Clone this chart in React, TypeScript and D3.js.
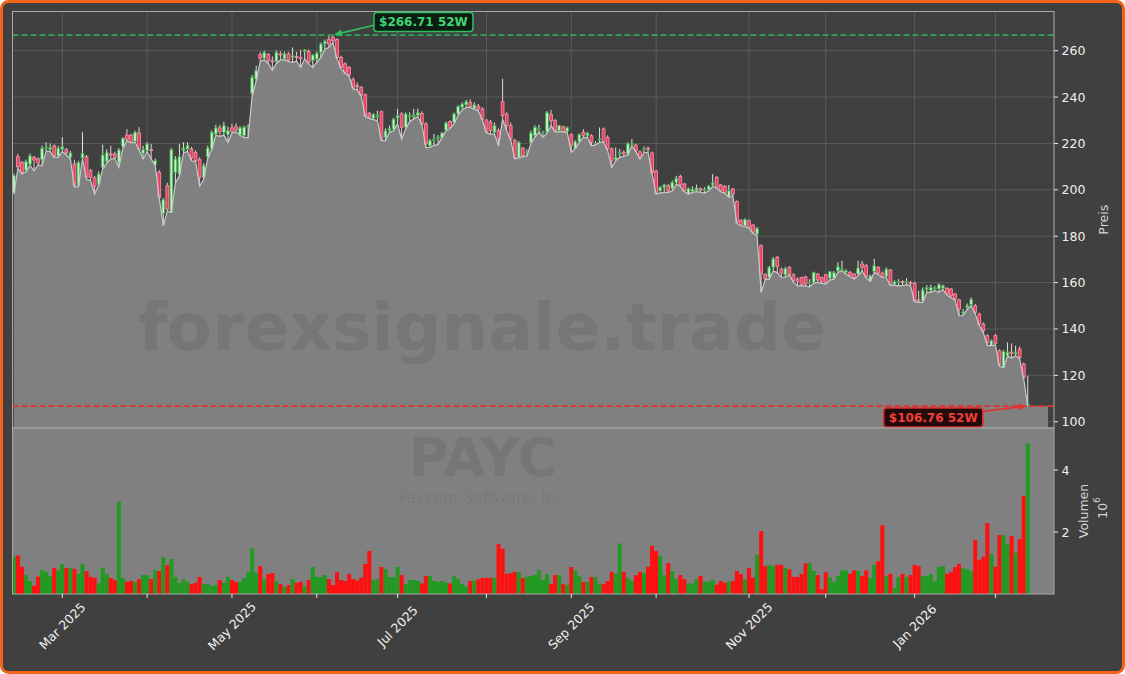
import React from "react";
import * as d3 from "d3";

// ---------- DATA (price in USD, volume in millions; index = trading day) ----------
const openP = [
198.9,214.3,211.8,208.5,211.1,214.0,213.3,212.9,218.0,217.5,
218.9,214.6,217.5,217.3,214.0,211.1,201.8,213.7,214.3,208.2,
205.1,202.5,209.7,212.3,215.5,215.4,211.8,218.6,223.6,223.6,
220.9,224.5,215.7,216.9,217.3,210.8,207.5,189.8,201.8,190.3,
207.5,206.8,217.0,217.6,217.6,216.0,213.0,205.4,214.3,217.6,
224.1,226.7,224.8,223.8,226.7,227.2,223.8,223.3,227.2,241.6,
247.8,258.3,256.8,258.3,255.6,255.3,258.6,256.4,258.6,257.0,
257.5,257.0,259.6,259.6,255.7,256.4,259.3,263.0,264.8,265.8,
264.8,257.1,254.3,252.8,247.5,244.9,244.2,241.0,233.0,230.8,
231.5,233.7,222.6,225.6,226.2,231.0,232.7,227.0,231.5,231.5,
232.0,232.9,228.4,219.0,221.5,222.4,222.6,225.8,229.5,229.1,
232.7,235.6,236.6,237.7,235.1,236.0,234.9,230.1,229.2,224.8,
225.5,238.0,232.7,227.7,221.2,214.0,217.9,216.0,220.5,223.4,
226.2,224.6,225.1,232.4,229.8,225.5,227.2,225.2,223.8,217.9,
220.9,224.8,223.3,223.3,219.8,221.5,226.2,222.6,217.6,213.0,
215.5,216.2,215.4,219.6,219.3,216.4,217.2,217.9,215.9,208.1,
199.6,201.1,201.8,200.6,203.2,205.8,202.5,198.2,199.3,199.6,
200.5,199.6,200.2,202.1,205.4,202.1,201.5,197.2,200.3,194.9,
186.7,184.5,186.7,184.8,180.9,175.9,163.4,162.3,166.6,170.9,
165.8,163.3,166.6,163.4,161.5,162.2,162.5,160.0,160.1,163.7,
162.2,163.4,161.8,161.9,165.1,165.6,164.4,164.4,163.7,163.7,
168.0,167.3,160.8,164.8,166.6,164.1,162.5,165.4,159.1,160.0,
160.5,160.2,160.0,159.7,152.5,152.2,157.2,156.5,157.6,157.3,
157.6,157.5,157.2,155.1,152.5,146.7,149.3,150.5,150.0,146.4,
142.1,137.1,132.8,137.1,130.6,123.4,128.5,130.0,129.2,131.3,
124.9,107.3
];
const highP = [
207.0,215.5,212.5,213.0,215.6,214.6,214.0,219.0,220.5,220.0,
219.6,219.0,222.6,218.0,216.8,213.0,212.5,224.8,215.0,209.0,
206.0,208.0,219.5,217.5,219.0,216.5,218.0,222.6,226.2,224.2,
225.5,227.0,219.0,220.5,219.8,213.5,208.5,196.5,203.0,218.0,
214.5,219.8,220.5,220.5,218.5,217.0,214.0,211.5,219.0,225.6,
228.0,228.0,229.3,227.3,228.5,228.7,227.5,227.7,228.3,249.5,
253.5,259.3,260.0,259.0,257.5,260.0,259.7,259.5,259.3,261.4,
259.5,260.4,260.7,260.5,258.5,259.5,263.5,264.8,266.5,266.71,
265.3,257.8,255.0,253.4,248.5,246.3,244.8,241.5,233.6,233.0,
234.1,234.1,226.5,227.7,231.0,234.9,233.5,233.4,233.4,234.9,
235.0,233.8,229.2,222.0,224.1,223.6,225.0,229.5,230.0,233.3,
236.5,237.7,238.8,239.0,237.7,237.0,235.6,230.6,230.1,229.0,
226.5,247.9,233.4,229.0,222.0,221.0,218.5,217.5,225.5,227.8,
228.0,225.5,234.0,234.5,230.5,228.0,227.7,227.3,224.3,221.4,
224.3,226.2,225.0,224.0,221.0,226.9,226.9,223.5,218.3,218.3,
217.6,217.0,220.5,221.9,219.8,217.0,218.7,218.7,216.5,208.6,
201.6,202.6,202.5,204.0,206.0,206.5,203.0,201.0,201.5,202.2,
201.0,201.1,202.1,206.8,205.8,202.6,202.0,202.1,200.8,195.5,
187.5,187.8,187.2,185.2,184.0,176.5,164.1,167.2,171.0,171.5,
166.5,166.8,167.0,164.0,162.2,162.5,163.0,161.5,164.7,164.0,
162.5,163.7,165.0,165.0,168.7,169.4,165.8,165.0,164.1,169.4,
169.4,168.0,163.5,170.2,167.0,164.8,166.5,165.8,161.0,161.5,
161.0,161.9,160.8,160.3,156.5,157.9,158.9,159.1,158.5,159.7,
159.2,158.0,157.6,155.5,153.0,148.6,151.0,153.6,150.8,147.0,
142.8,137.7,135.5,137.8,131.2,130.9,134.2,133.8,132.8,132.5,
125.5,119.8
];
const lowP = [
198.2,209.3,206.8,207.8,210.5,208.2,210.8,210.5,216.8,216.5,
214.0,214.0,216.5,215.0,213.3,201.3,201.3,213.5,204.5,204.0,
198.2,202.0,209.0,211.5,213.3,213.5,209.7,218.0,221.2,220.2,
220.5,217.4,213.3,216.5,213.3,210.5,196.5,184.5,190.8,190.3,
203.0,206.0,216.0,216.5,212.5,212.0,201.5,204.5,213.5,217.5,
223.5,223.0,223.6,220.5,224.5,225.0,223.5,222.5,222.5,240.5,
247.0,255.5,256.0,254.5,251.5,254.5,256.0,256.0,255.3,255.0,
255.5,252.8,256.5,254.3,252.8,255.0,257.0,260.5,261.5,263.5,
256.5,252.3,250.3,249.0,243.4,243.2,240.3,231.6,230.8,230.3,
229.8,221.2,221.2,224.8,225.5,228.5,221.9,226.2,229.5,230.6,
231.5,228.4,218.2,218.3,219.2,219.5,222.6,225.5,226.4,228.5,
232.2,234.5,235.6,235.5,234.8,234.0,230.1,224.6,224.0,224.0,
219.0,230.5,225.5,221.5,213.4,213.8,214.3,214.5,220.0,222.7,
224.8,222.6,224.5,227.7,225.0,225.0,225.0,224.8,216.2,217.9,
220.5,222.6,222.5,219.0,219.4,220.5,220.5,217.0,209.7,212.6,
214.0,214.5,215.0,219.0,216.5,213.3,216.0,216.2,207.0,198.2,
198.6,198.9,198.9,199.5,202.5,201.5,199.2,198.2,198.9,199.2,
198.9,198.6,199.5,201.5,200.8,199.2,198.5,196.8,197.5,185.5,
184.5,184.2,183.5,181.3,180.2,155.8,161.3,161.5,165.0,164.3,
162.3,162.3,163.3,160.2,158.6,158.6,158.6,158.2,159.7,160.1,
159.7,159.4,161.1,161.5,164.4,165.1,163.7,162.5,161.5,163.0,
165.1,162.0,160.5,164.4,163.5,162.2,162.0,158.8,158.8,158.6,
158.8,159.1,158.6,151.8,151.5,151.5,155.8,155.8,156.5,155.8,
157.0,154.7,153.5,152.5,145.7,145.7,148.5,150.0,146.5,141.5,
138.5,132.8,132.8,133.0,124.0,123.3,128.3,127.5,128.5,127.0,
118.5,106.76
];
const closeP = [
206.1,210.0,207.5,212.1,214.6,212.9,211.6,217.9,218.4,218.3,
214.7,218.0,218.6,215.9,215.9,201.8,211.8,215.7,205.4,205.4,
201.5,206.8,215.0,216.2,215.0,214.0,217.2,222.3,221.7,220.7,
224.8,217.6,217.3,219.8,217.0,212.6,196.7,195.7,191.7,217.3,
213.3,214.3,218.0,219.1,213.7,212.6,205.4,210.4,218.0,224.8,
226.7,225.2,227.7,225.5,225.2,225.8,226.7,227.0,227.5,248.5,
251.4,256.8,259.3,255.7,255.3,259.3,258.2,258.6,256.0,257.8,
257.2,256.7,260.3,255.0,258.1,258.9,262.9,264.0,262.9,264.3,
257.1,252.8,250.7,249.5,243.9,244.6,240.9,232.0,231.5,232.6,
232.0,221.9,225.5,226.5,230.5,232.0,227.0,232.7,232.0,232.2,
233.4,228.4,219.8,221.2,221.8,222.7,224.5,228.8,226.9,232.7,
235.9,237.0,238.0,235.9,236.7,234.9,230.5,224.8,225.5,227.7,
221.9,232.0,227.7,221.9,214.0,220.5,214.7,216.3,224.5,227.0,
226.5,224.9,233.4,229.8,225.5,227.7,225.2,226.8,219.3,220.8,
223.8,223.6,224.5,220.5,220.0,222.0,220.8,217.6,212.6,214.0,
216.0,215.5,219.8,219.9,216.9,214.0,217.6,217.8,207.5,198.6,
201.1,202.1,199.6,203.2,205.0,202.1,199.6,200.6,200.3,200.8,
199.8,200.1,201.6,203.0,201.1,199.6,198.9,199.6,198.2,186.0,
184.8,187.1,183.8,181.7,183.4,163.7,161.8,166.6,170.2,167.0,
164.1,166.1,163.7,160.8,160.5,159.1,159.4,160.3,164.4,161.1,
160.5,160.1,164.7,164.4,166.8,165.9,165.1,163.0,162.2,166.3,
166.6,162.5,162.9,167.3,164.1,162.5,165.8,159.1,160.4,160.3,
160.0,160.5,159.7,152.2,152.2,156.8,157.9,157.9,157.7,159.1,
158.6,155.1,154.3,152.9,148.6,147.3,150.0,152.8,147.2,142.1,
139.2,134.2,134.9,133.8,124.6,130.3,130.0,129.5,130.0,127.7,
119.1,107.6
];
const volumeM = [
1.20,1.24,0.88,0.61,0.42,0.27,0.56,0.77,0.71,0.58,
0.84,0.77,0.97,0.84,0.84,0.81,0.65,0.97,0.74,0.56,
0.52,0.34,0.84,0.65,0.52,0.45,2.97,0.52,0.39,0.42,
0.39,0.48,0.61,0.61,0.48,0.77,0.74,1.19,0.94,1.13,
0.55,0.36,0.48,0.39,0.32,0.36,0.55,0.32,0.32,0.26,
0.29,0.45,0.36,0.55,0.45,0.39,0.39,0.52,0.71,1.48,
0.68,0.90,0.48,0.65,0.68,0.42,0.32,0.23,0.29,0.48,
0.36,0.39,0.26,0.45,0.87,0.55,0.55,0.61,0.48,0.29,
0.71,0.45,0.42,0.65,0.48,0.43,0.53,0.97,1.39,0.45,
0.48,0.87,0.81,0.55,0.55,0.87,0.61,0.32,0.45,0.45,
0.42,0.34,0.58,0.58,0.42,0.39,0.42,0.37,0.34,0.58,
0.48,0.32,0.24,0.42,0.43,0.47,0.52,0.52,0.52,0.52,
1.61,1.46,0.65,0.67,0.71,0.71,0.52,0.56,0.58,0.61,
0.77,0.45,0.65,0.32,0.61,0.61,0.32,0.29,0.87,0.77,
0.58,0.39,0.39,0.55,0.55,0.32,0.32,0.42,0.71,0.65,
1.63,0.71,0.52,0.42,0.61,0.71,0.67,0.88,1.55,1.39,
1.23,0.61,1.00,0.74,0.48,0.61,0.48,0.34,0.34,0.47,
0.58,0.40,0.40,0.45,0.30,0.42,0.36,0.40,0.42,0.74,
0.64,0.47,0.84,0.53,1.26,2.03,0.90,0.94,0.90,0.94,
0.94,0.84,0.80,0.55,0.55,0.65,0.99,0.99,0.74,0.61,
0.15,0.70,0.55,0.39,0.58,0.76,0.76,0.65,0.76,0.74,
0.58,0.76,0.52,0.94,1.06,2.22,0.58,0.65,0.19,0.55,
0.65,0.55,0.61,0.94,0.90,0.58,0.58,0.65,0.42,0.87,
0.90,0.65,0.71,0.87,0.97,0.84,0.81,0.74,1.74,1.10,
1.20,2.29,1.29,0.88,1.90,1.90,1.61,1.87,1.33,1.77,
3.16,4.86
];
const monthTickIdx = [12, 33, 54, 75, 95, 117, 138, 159, 182, 201, 223, 243];
const monthTickLabels = ["Mar 2025", "", "May 2025", "", "Jul 2025", "", "Sep 2025", "", "Nov 2025", "", "Jan 2026", ""];
const priceTicks = [100, 120, 140, 160, 180, 200, 220, 240, 260];
const volumeTicks = [2, 4];
const high52 = 266.71;
const high52Idx = 79;
const low52 = 106.76;
const low52Idx = 251;
const fillExtendIdx = 256;
const ticker = "PAYC";
const companyName = "Paycom Software, Inc";
const watermark = "forexsignale.trade";

// ---------- LAYOUT ----------
const W = 1125, H = 674;
const L = 12.5, R = 1054, PT = 11.5, PB = 428, VB = 594;
const BG = "#404040";
const FONT = "DejaVu Sans, Verdana, sans-serif";

export default function App() {
  const x = d3.scaleLinear().domain([-0.33, 257.5]).range([L, R]);
  const yP = d3.scaleLinear().domain([97.3, 276.9]).range([PB, PT]);
  const yV = d3.scaleLinear().domain([0, 5.355]).range([VB, PB]);
  const step = x(1) - x(0);

  const pts: [number, number][] = lowP.map((l, i) => [i, l]);
  pts.push([fillExtendIdx, lowP[lowP.length - 1]]);
  const area = d3.area<[number, number]>().x(d => x(d[0])).y0(PB).y1(d => yP(d[1]));
  const line = d3.line<[number, number]>().x(d => x(d[0])).y(d => yP(d[1]));
  const areaPath = area(pts) || "";
  const linePath = line(lowP.map((l, i) => [i, l] as [number, number])) || "";

  const bw = 2.8;
  const upFill = "#c6f2c6", upStroke = "#3aa84a";
  const dnFill = "#ea3f64", dnStroke = "#f68aa0";

  const hx = x(high52Idx), hy = yP(high52);
  const lx = x(low52Idx), ly = yP(low52);

  const arrow = (x1: number, y1: number, x2: number, y2: number, color: string) => {
    const ang = Math.atan2(y2 - y1, x2 - x1);
    const len = 8, wid = 3.5;
    const bx = x2 - len * Math.cos(ang), by = y2 - len * Math.sin(ang);
    const p1 = [bx + wid * Math.sin(ang), by - wid * Math.cos(ang)];
    const p2 = [bx - wid * Math.sin(ang), by + wid * Math.cos(ang)];
    return (
      <g>
        <line x1={x1} y1={y1} x2={bx} y2={by} stroke={color} strokeWidth={1.7} />
        <path d={`M${x2},${y2}L${p1[0]},${p1[1]}L${p2[0]},${p2[1]}Z`} fill={color} />
      </g>
    );
  };

  const gBoxW = 99, gBoxH = 19;
  const gcx = hx + 90.5, gcy = 22;
  const rcx = lx - 94.5, rcy = 417.5;

  return (
    <svg width={W} height={H} style={{ position: "absolute", left: 0, top: 0 }} fontFamily={FONT}>
      <defs>
        <clipPath id="pclip"><rect x={L} y={PT} width={R - L} height={PB - PT} /></clipPath>
        <clipPath id="vclip"><rect x={L} y={PB} width={R - L} height={VB - PB} /></clipPath>
      </defs>
      <rect x={0} y={0} width={W} height={H} fill="#ffffff" />
      <rect x={1.5} y={1.5} width={W - 3} height={H - 3} rx={7} fill={BG} stroke="#f26419" strokeWidth={3} />

      {/* price panel */}
      <g clipPath="url(#pclip)">
        {priceTicks.map(t => (
          <line key={"gy" + t} x1={L} x2={R} y1={yP(t)} y2={yP(t)} stroke="#5e5e5e" strokeWidth={0.9} />
        ))}
        {monthTickIdx.map(t => (
          <line key={"gx" + t} x1={x(t)} x2={x(t)} y1={PT} y2={PB} stroke="#5e5e5e" strokeWidth={0.9} />
        ))}
        <path d={areaPath} fill={BG} />
        {openP.map((o, i) => {
          const c = closeP[i];
          const up = c >= o;
          const top = Math.max(o, c), bot = Math.min(o, c);
          const hi = Math.max(highP[i], top), lo = Math.min(lowP[i], bot);
          const cx = x(i);
          const yt = yP(top), yb = yP(bot);
          return (
            <g key={"c" + i}>
              <line x1={cx} x2={cx} y1={yP(hi)} y2={yP(lo)} stroke={up ? "#d6ead6" : "#f0c8d0"} strokeWidth={1} />
              <rect x={cx - bw / 2} y={yt} width={bw} height={Math.max(0.9, yb - yt)}
                fill={up ? upFill : dnFill} stroke={up ? upStroke : dnStroke} strokeWidth={0.9} />
            </g>
          );
        })}
        <path d={areaPath} fill="#ababab" fillOpacity={0.6} />
        <path d={linePath} fill="none" stroke="#c9c9c9" strokeWidth={1.2} />
        <text x={482} y={350} textAnchor="middle" fontSize={66} fontWeight="bold" fill="#000" fillOpacity={0.075}>{watermark}</text>
        <line x1={L} x2={R} y1={hy} y2={hy} stroke="#2fa85a" strokeWidth={1.8} strokeDasharray="6,3" />
        <line x1={L} x2={R} y1={ly} y2={ly} stroke="#e3302c" strokeWidth={1.8} strokeDasharray="6,3" />
      </g>
      <rect x={L} y={PT} width={R - L} height={PB - PT} fill="none" stroke="#a9a9a9" strokeWidth={1} />

      {/* annotations */}
      {arrow(gcx - gBoxW / 2 + 1, gcy + 3, hx + 1, hy - 0.5, "#2fbf5f")}
      <rect x={gcx - gBoxW / 2} y={gcy - gBoxH / 2} width={gBoxW} height={gBoxH} rx={3}
        fill="#0c1c12" stroke="#2fbf5f" strokeWidth={1.5} />
      <text x={gcx} y={gcy} textAnchor="middle" dominantBaseline="central" fontSize={12} fontWeight="bold" fill="#3fd873">
        {"$" + high52.toFixed(2) + " 52W"}
      </text>
      {arrow(rcx + gBoxW / 2 - 1, rcy - 6, lx - 1.5, ly, "#e8302b")}
      <rect x={rcx - gBoxW / 2} y={rcy - gBoxH / 2} width={gBoxW} height={gBoxH} rx={3}
        fill="#240b0b" stroke="#d92c2c" strokeWidth={1.5} />
      <text x={rcx} y={rcy} textAnchor="middle" dominantBaseline="central" fontSize={12} fontWeight="bold" fill="#f0403a">
        {"$" + low52.toFixed(2) + " 52W"}
      </text>

      {/* volume panel */}
      <rect x={L} y={PB} width={R - L} height={VB - PB} fill="#808080" />
      <g clipPath="url(#vclip)">
        <text x={483} y={476} textAnchor="middle" fontSize={54} fontWeight="bold" fill="#000" fillOpacity={0.075}>{ticker}</text>
        <text x={481} y={503} textAnchor="middle" fontSize={15.5} fill="#000" fillOpacity={0.075}>{companyName}</text>
        {volumeM.map((v, i) => {
          const up = closeP[i] >= openP[i];
          return (
            <rect key={"v" + i} x={x(i) - step / 2} y={yV(v)} width={step} height={VB - yV(v)}
              fill={up ? "#229a22" : "#ff1010"} />
          );
        })}
      </g>
      <rect x={L} y={PB} width={R - L} height={VB - PB} fill="none" stroke="#a9a9a9" strokeWidth={1} />

      {/* right axes */}
      {priceTicks.map(t => (
        <g key={"yt" + t}>
          <line x1={R} x2={R + 4} y1={yP(t)} y2={yP(t)} stroke="#e6e6e6" strokeWidth={1} />
          <text x={R + 7.5} y={yP(t)} dominantBaseline="central" fontSize={12.5} fill="#f0f0f0">{t}</text>
        </g>
      ))}
      <text transform={`translate(1103,${(PT + PB) / 2}) rotate(-90)`} textAnchor="middle" dominantBaseline="central"
        fontSize={12.5} fill="#d6d6d6">Preis</text>
      {volumeTicks.map(t => (
        <g key={"vt" + t}>
          <line x1={R} x2={R + 4} y1={yV(t)} y2={yV(t)} stroke="#e6e6e6" strokeWidth={1} />
          <text x={R + 7.5} y={yV(t)} dominantBaseline="central" fontSize={12.5} fill="#f0f0f0">{t}</text>
        </g>
      ))}
      <text transform={`translate(1083,${(PB + VB) / 2}) rotate(-90)`} textAnchor="middle" dominantBaseline="central"
        fontSize={12.5} fill="#d6d6d6">Volumen</text>
      <text transform={`translate(1102,${(PB + VB) / 2 - 3}) rotate(-90)`} textAnchor="middle" dominantBaseline="central"
        fontSize={12.5} fill="#d6d6d6">10<tspan dy={-5} fontSize={8.5}>6</tspan></text>

      {/* bottom axis */}
      {monthTickIdx.map((t, k) => {
        const lab = monthTickLabels[k];
        const tx = x(t);
        const wEst = lab.length * 7.1;
        const cy = VB + 7 + (wEst + 14) * 0.7071 / 2;
        return (
          <g key={"xt" + t}>
            <line x1={tx} x2={tx} y1={VB} y2={VB + 4} stroke="#e6e6e6" strokeWidth={1} />
            {lab && (
              <text transform={`translate(${tx},${cy}) rotate(-45)`} textAnchor="middle" dominantBaseline="central"
                fontSize={12.5} fill="#f0f0f0">{lab}</text>
            )}
          </g>
        );
      })}
    </svg>
  );
}
